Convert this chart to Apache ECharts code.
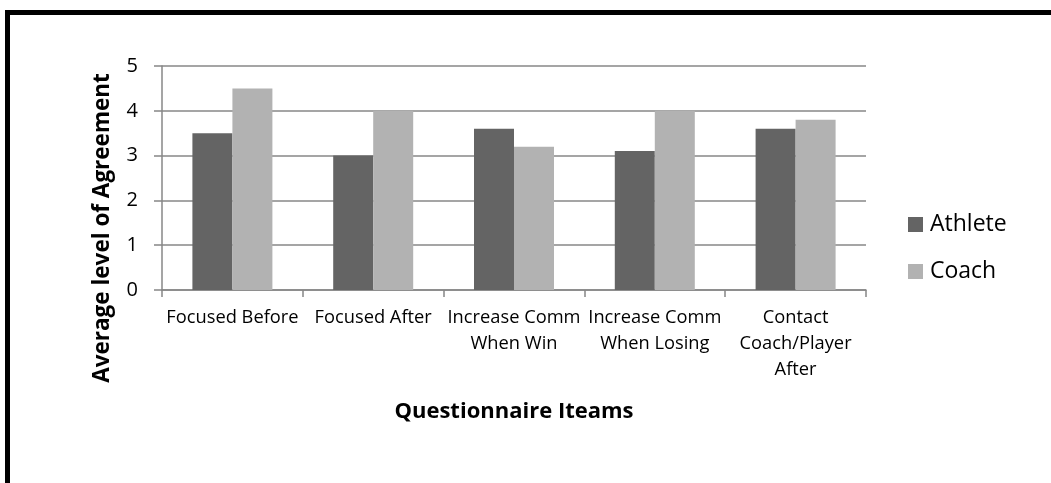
<!DOCTYPE html>
<html>
<head>
<meta charset="utf-8">
<script src="https://cdn.jsdelivr.net/npm/echarts@6/dist/echarts.min.js"></script>
<style>
  html, body { margin: 0; padding: 0; background: #ffffff; }
  #chart { width: 1051px; height: 483px; }
</style>
</head>
<body>
<div id="chart"></div>
<script>
// Questionnaire items (x axis) and average agreement per group
const categories = [
  'Focused Before',
  'Focused After',
  'Increase Comm\nWhen Win',
  'Increase Comm\nWhen Losing',
  'Contact\nCoach/Player\nAfter'
];
const athleteValues = [3.5, 3.0, 3.6, 3.1, 3.6];
const coachValues = [4.5, 4.0, 3.2, 4.0, 3.8];
const seriesNames = ['Athlete', 'Coach'];
const yTicks = [0, 1, 2, 3, 4, 5];

const FONT = '"Open Sans", "Noto Sans", sans-serif';
const GRID_GRAY = '#878787';

const chart = echarts.init(document.getElementById('chart'), null, { renderer: 'canvas' });

chart.setOption({
  animation: false,
  backgroundColor: '#ffffff',
  textStyle: { fontFamily: FONT, color: '#000000' },
  graphic: [{
    // heavy outer frame
    type: 'rect',
    shape: { x: 7.5, y: 12.5, width: 1100, height: 600 },
    style: { fill: 'none', stroke: '#000000', lineWidth: 5 },
    silent: true,
    z: 100
  }],
  grid: { left: 162, right: 185, top: 66, bottom: 193 },
  legend: {
    orient: 'vertical',
    left: 903,
    top: 208,
    itemWidth: 15,
    itemHeight: 15,
    itemGap: 24,
    icon: 'rect',
    textStyle: { fontFamily: FONT, fontSize: 23, color: '#000000', padding: [0, 0, 0, 2] },
    data: seriesNames
  },
  xAxis: {
    type: 'category',
    data: categories,
    name: 'Questionnaire Iteams',
    nameLocation: 'middle',
    nameGap: 111,
    nameTextStyle: { fontFamily: FONT, fontSize: 22, fontWeight: 'bold', color: '#000000' },
    axisLine: { lineStyle: { color: GRID_GRAY, width: 1.5 } },
    axisTick: { show: true, length: 7, alignWithLabel: false, lineStyle: { color: GRID_GRAY, width: 1.5 } },
    axisLabel: {
      fontFamily: FONT, fontSize: 18.3, color: '#000000',
      margin: 15, lineHeight: 26, interval: 0, align: 'center'
    }
  },
  yAxis: {
    type: 'value',
    min: yTicks[0],
    max: yTicks[yTicks.length - 1],
    interval: 1,
    name: 'Average level of Agreement',
    nameLocation: 'middle',
    nameGap: 48,
    nameTextStyle: {
      fontFamily: FONT, fontSize: 22.5, fontWeight: 'bold', color: '#000000',
      // title sits a little below the plot's vertical centre
      padding: [0, 100, 0, 0]
    },
    axisLine: { show: true, lineStyle: { color: GRID_GRAY, width: 1.5 } },
    axisTick: { show: true, length: 8, lineStyle: { color: GRID_GRAY, width: 1.5 } },
    axisLabel: { fontFamily: FONT, fontSize: 20, color: '#000000', margin: 24 },
    splitLine: { show: true, lineStyle: { color: GRID_GRAY, width: 1.5 } }
  },
  series: [
    {
      name: seriesNames[0],
      type: 'bar',
      data: athleteValues,
      barWidth: 40,
      barGap: '0%',
      itemStyle: { color: '#646464' }
    },
    {
      name: seriesNames[1],
      type: 'bar',
      data: coachValues,
      barWidth: 40,
      barGap: '0%',
      itemStyle: { color: '#b2b2b2' }
    }
  ]
});
</script>
</body>
</html>
